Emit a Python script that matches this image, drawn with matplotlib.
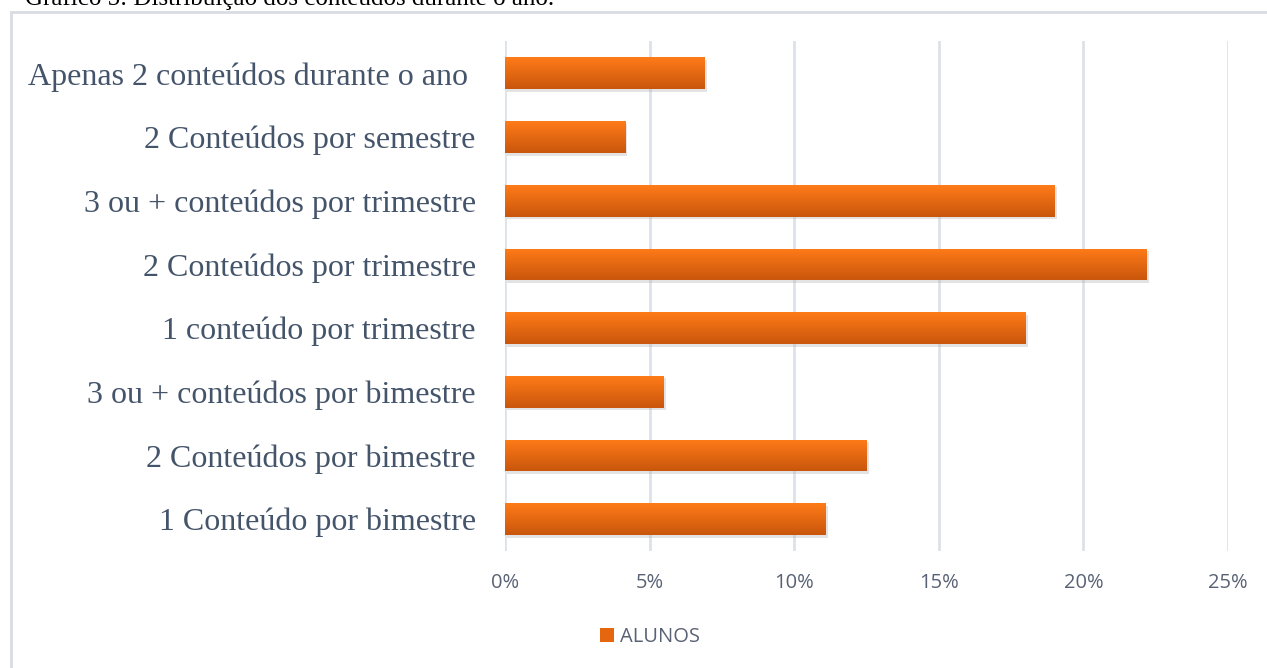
import matplotlib.pyplot as plt
import matplotlib.patches as mpatches
from matplotlib.colors import LinearSegmentedColormap
import numpy as np

# Data
categorias = [
    'Apenas 2 conteúdos durante o ano ',
    '2 Conteúdos por semestre',
    '3 ou + conteúdos por trimestre',
    '2 Conteúdos por trimestre',
    '1 conteúdo por trimestre',
    '3 ou + conteúdos por bimestre',
    '2 Conteúdos por bimestre',
    '1 Conteúdo por bimestre',
]
alunos = [6.9, 4.15, 19.0, 22.2, 18.0, 5.47, 12.5, 11.1]
xticks = [0, 5, 10, 15, 20, 25]
xtick_labels = ['0%', '5%', '10%', '15%', '20%', '25%']

fig = plt.figure(figsize=(12.67, 6.68), dpi=100)
ax = fig.add_axes([0.3986, 0.175, 0.5706, 0.7629])

# Outer chart frame
frame = mpatches.Rectangle((11 / 1267, -0.1), 1.2, 1 - 12 / 668 + 0.1,
                           transform=fig.transFigure, fill=False,
                           edgecolor='#d9dce3', linewidth=2, zorder=0)
fig.patches.append(frame)

# Caption at the top (cut off in the original image)
fig.text(25 / 1267, 1 - 5 / 668, 'Gráfico 5: Distribuição dos conteúdos durante o ano.',
         family='Liberation Serif', fontsize=18, color='black', va='baseline', ha='left')

y = np.arange(len(categorias))
bars = ax.barh(y, alunos, height=0.5, color='#e5660f', zorder=3, label='ALUNOS')

# Vertical gradient inside each bar
grad = np.linspace(0, 1, 64).reshape(-1, 1)
cmap = LinearSegmentedColormap.from_list('og', ['#ff7b18', '#c9560c'])
for b in bars:
    x0, y0 = b.get_x(), b.get_y()
    w, h = b.get_width(), b.get_height()
    # soft shadow
    ax.add_patch(mpatches.Rectangle((x0 + 0.08, y0 + 0.04), w, h, color='#b0b0b0',
                                    alpha=0.35, zorder=2, linewidth=0))
    im = ax.imshow(grad, cmap=cmap, aspect='auto', extent=(x0, x0 + w, y0 + h, y0),
                   zorder=4, interpolation='bilinear')
    im.set_clip_path(b)

ax.set_ylim(len(categorias) - 0.5, -0.5)
ax.set_xlim(0, 25)
ax.set_yticks(y)
ax.set_yticklabels(categorias, family='Liberation Serif', fontsize=23, color='#44546a')
ax.set_xticks(xticks)
ax.set_xticklabels(xtick_labels, family='Open Sans', fontsize=14.5, color='#596275')
ax.tick_params(axis='both', length=0)
ax.tick_params(axis='y', pad=21)
ax.tick_params(axis='x', pad=16)

ax.grid(axis='x', color='#dde1e9', linewidth=2, zorder=0)
ax.set_axisbelow(True)
for s in ax.spines.values():
    s.set_visible(False)

leg_handle = mpatches.Patch(facecolor='#e5660f', edgecolor='none')
fig.legend([leg_handle], ['ALUNOS'], loc='center', bbox_to_anchor=(0.513, 0.047),
           frameon=False, prop={'family': 'Open Sans', 'size': 14.5},
           handlelength=0.7, handleheight=0.7, handletextpad=0.3,
           labelcolor='#596275')

plt.savefig('out.png', dpi=100)
